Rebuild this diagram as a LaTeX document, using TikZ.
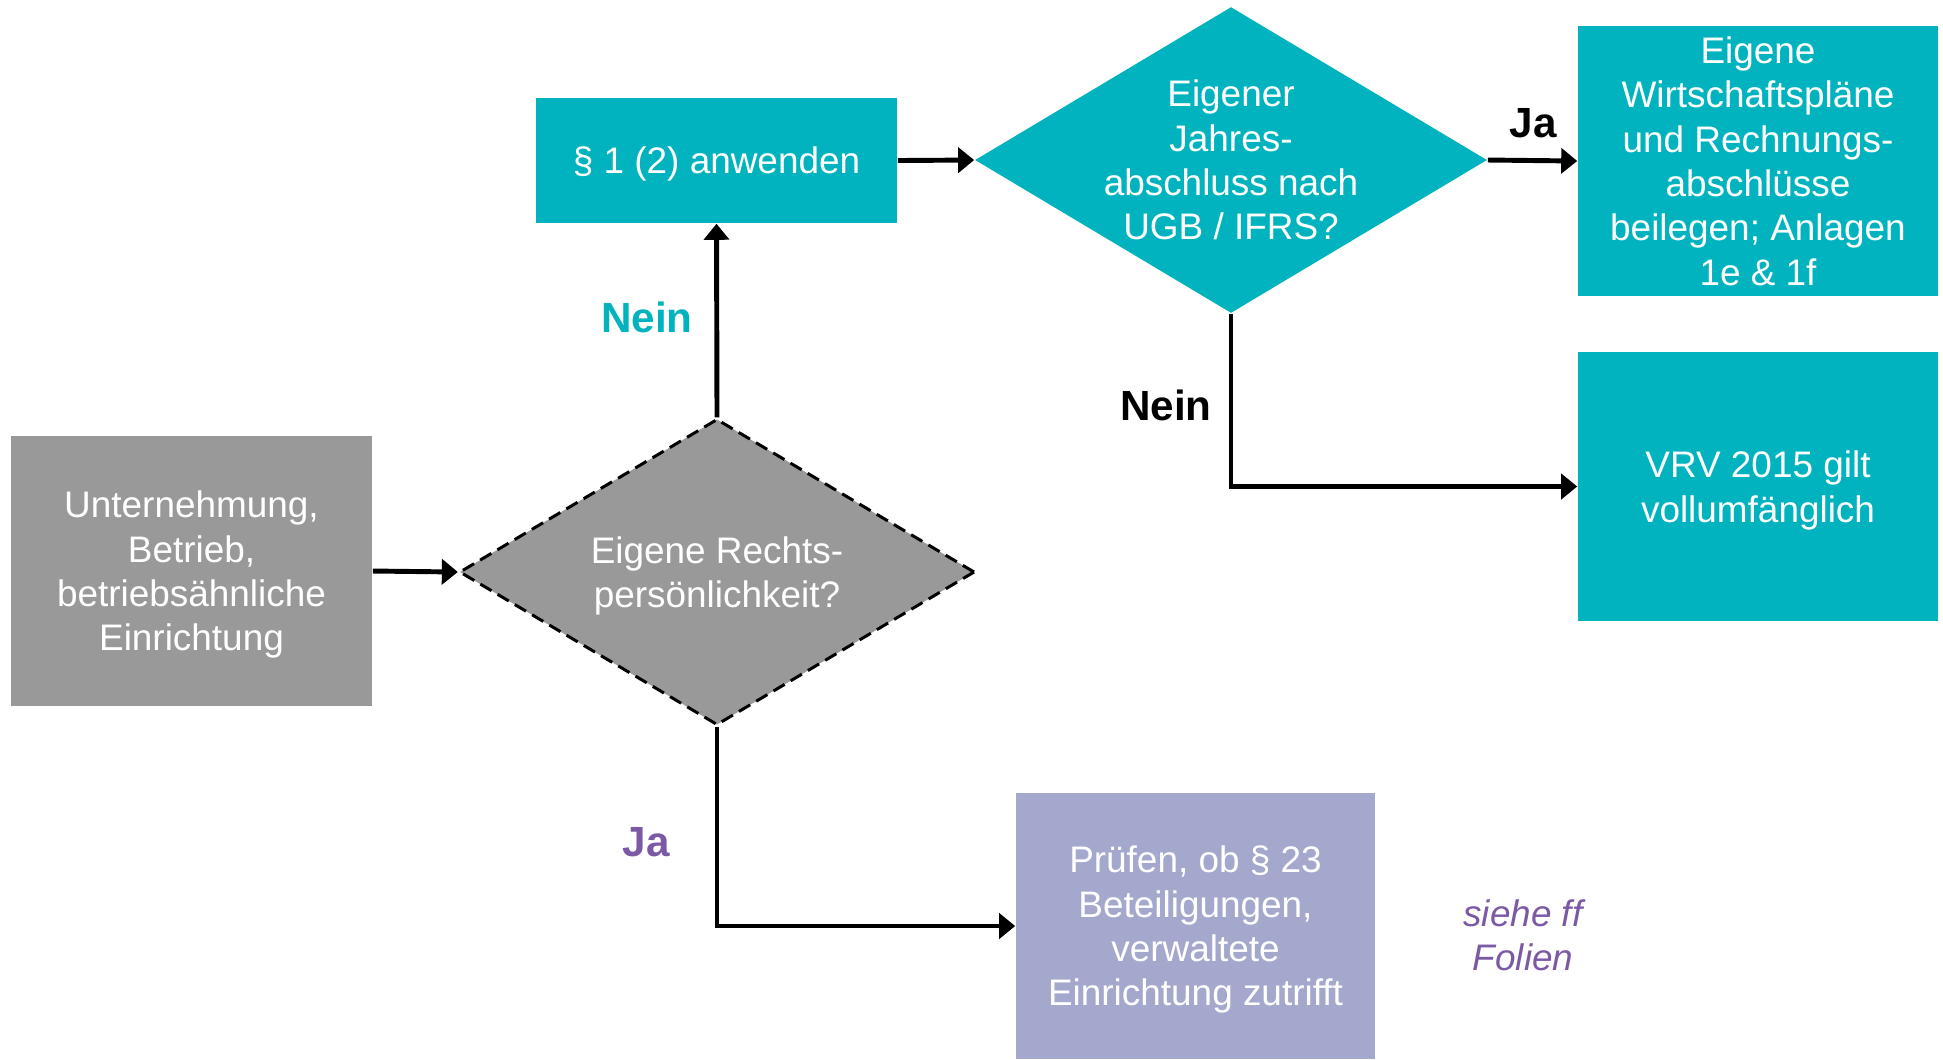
\documentclass[tikz,border=0pt]{standalone}
\usepackage{fontspec}
\setmainfont{Liberation Sans}
\usetikzlibrary{shapes.geometric, arrows.meta}
\definecolor{fbteal}{RGB}{0,179,190}
\definecolor{fbgrey}{RGB}{153,153,153}
\definecolor{fbpurple}{RGB}{165,168,205}
\definecolor{fblabel}{RGB}{123,89,165}
\tikzset{
  box/.style = {rectangle, inner sep = 0, text = white, align = center,
    font = \fontsize{10.5}{12.6}\selectfont, text depth = -1pt},
  decision/.style = {diamond, inner sep = 0, aspect = 1},
  flow/.style = {line width = 1.4pt, -{Triangle[length = .16cm, width = .25cm]}},
  answer/.style = {font = \bfseries\fontsize{12}{14}\selectfont}
}
\begin{document}
\begin{tikzpicture}[x = .01cm, y = -.01cm]
  \useasboundingbox (0, 0) rectangle (1943, 1059);
  \node[box, fill = fbgrey, minimum width = 3.61cm, minimum height = 2.7cm]
  (unt) at (191.5, 571) {Unternehmung,\\Betrieb,\\betriebsähnliche\\Einrichtung};
  \node[decision, fill = fbgrey, draw, line width = .85pt,
  dash pattern = on 3.7pt off 2pt, minimum width = 5.15cm,
  minimum height = 3.06cm] (q1) at (717, 572) {};
  \node[box] (q1text) at (q1) {Eigene Rechts-\\persönlichkeit?};
  \node[box, fill = fbteal, minimum width = 3.61cm, minimum height = 1.25cm]
  (para) at (716.5, 160.5) {§ 1 (2) anwenden};
  \node[decision, fill = fbteal, minimum width = 5.12cm,
  minimum height = 3.06cm] (q2) at (1231, 160) {};
  \node[box] (q2text) at (q2) {Eigener\\Jahres-\\abschluss nach\\UGB / IFRS?};
  \node[box, fill = fbteal, minimum width = 3.6cm, minimum height = 2.7cm]
  (res1) at (1758, 161) {Eigene\\Wirtschaftspläne\\und Rechnungs-\\abschlüsse\\
  beilegen; Anlagen\\1e \& 1f};
  \node[box, fill = fbteal, minimum width = 3.6cm, minimum height = 2.69cm]
  (vrv) at (1758, 486.5) {VRV 2015 gilt\\vollumfänglich};
  \node[box, fill = fbpurple, minimum width = 3.59cm, minimum height = 2.66cm]
  (pruef) at (1195.5, 926) {Prüfen, ob § 23\\Beteiligungen,\\verwaltete\\
  Einrichtung zutrifft};
  \draw[flow] (unt.east) -- (q1.west);
  \draw[flow] (q1.north) -- (para.south);
  \draw[flow] (para.east) -- (q2.west);
  \draw[flow] (q2.east) -- (res1.west);
  \draw[flow] (q2.south) |- (vrv.west);
  \draw[flow] (q1.south) |- (pruef.west);
  \node[answer, text = fbteal] (nein1) at (647, 317) {Nein};
  \node[answer] (nein2) at (1166, 405) {Nein};
  \node[answer] (ja1) at (1533, 123) {Ja};
  \node[answer, text = fblabel] (ja2) at (646, 842) {Ja};
  \node[font = \itshape\fontsize{10.5}{12.6}\selectfont, text = fblabel,
  align = center] (siehe) at (1523, 935) {siehe ff\\Folien};
\end{tikzpicture}
\end{document}
